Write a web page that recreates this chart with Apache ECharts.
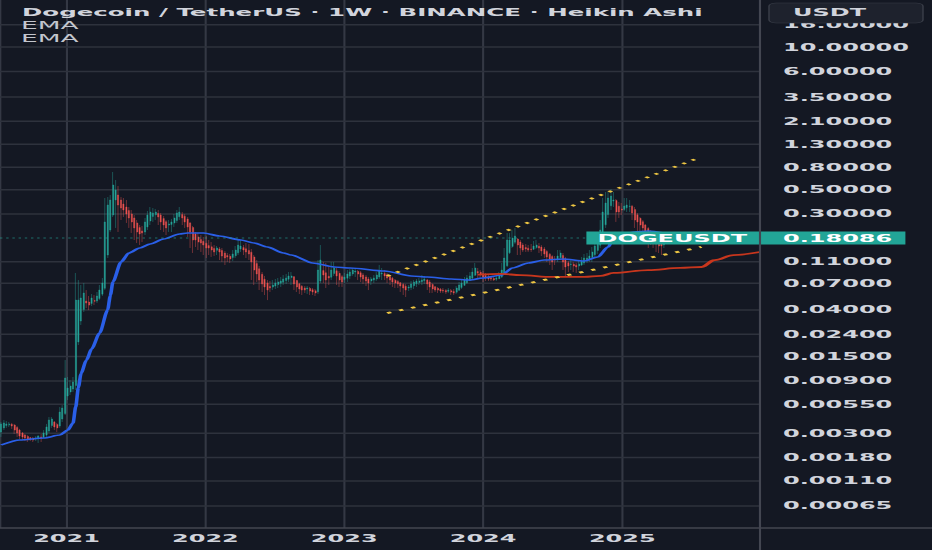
<!DOCTYPE html>
<html>
<head>
<meta charset="utf-8">
<script src="https://cdn.jsdelivr.net/npm/echarts@6/dist/echarts.min.js"></script>
<style>
html,body{margin:0;padding:0;background:#141823;overflow:hidden;}
#wrap{width:932px;height:550px;overflow:hidden;position:relative;background:#141823;}
#chart{width:1552px;height:2200px;position:absolute;left:0;top:0;transform:scale(0.600515,0.25);transform-origin:0 0;}
</style>
</head>
<body>
<div id="wrap"><div id="chart"></div></div>
<script>
// ---- data (weekly Heikin Ashi, DOGE/USDT) ----
const firstWeek = '2020-07-13';
const haOpen = [0.00307,0.00335,0.00352,0.00357,0.00361,0.00356,0.00338,0.0032,0.00301,0.00288,0.0028,0.00273,0.00269,0.00265,0.00268,0.00277,0.00274,0.00288,0.00314,0.00352,0.00379,0.0036,0.00349,0.00404,0.00453,0.00654,0.00712,0.00758,0.00815,0.0204,0.0316,0.0402,0.0481,0.0471,0.0457,0.0486,0.0482,0.0507,0.0556,0.0628,0.1265,0.2139,0.2932,0.4018,0.4462,0.4018,0.3697,0.3472,0.3225,0.2998,0.2757,0.2482,0.2258,0.2097,0.2054,0.2282,0.2588,0.2845,0.2945,0.3030,0.2932,0.2728,0.2551,0.2376,0.2403,0.2482,0.2613,0.2830,0.2968,0.2860,0.2700,0.2482,0.2258,0.1980,0.1852,0.1753,0.1688,0.1624,0.1542,0.1504,0.1455,0.1399,0.1434,0.1392,0.1317,0.1250,0.1232,0.1199,0.1245,0.1324,0.1437,0.1483,0.1443,0.1394,0.1343,0.1215,0.1060,0.0948,0.0843,0.0761,0.0703,0.0653,0.0645,0.0659,0.0681,0.0700,0.0716,0.0741,0.0761,0.0788,0.0801,0.0742,0.0692,0.0656,0.0632,0.0620,0.0627,0.0610,0.0596,0.0584,0.0733,0.0914,0.0872,0.0809,0.0794,0.0857,0.0909,0.0861,0.0803,0.0758,0.0778,0.0813,0.0850,0.0886,0.0896,0.0872,0.0833,0.0798,0.0765,0.0733,0.0748,0.0765,0.0798,0.0850,0.0859,0.0835,0.0806,0.0778,0.0746,0.0724,0.0706,0.0683,0.0657,0.0632,0.0640,0.0665,0.0691,0.0712,0.0722,0.0736,0.0750,0.0718,0.0681,0.0650,0.0628,0.0617,0.0605,0.0599,0.0590,0.0597,0.0589,0.0579,0.0605,0.0639,0.0669,0.0708,0.0742,0.0778,0.0828,0.0896,0.0881,0.0856,0.0825,0.0803,0.0783,0.0773,0.0760,0.0770,0.0800,0.0859,0.1009,0.1324,0.1514,0.1657,0.1768,0.1664,0.1561,0.1483,0.1461,0.1434,0.1428,0.1480,0.1520,0.1495,0.1437,0.1364,0.1288,0.1225,0.1157,0.1150,0.1194,0.1255,0.1172,0.1073,0.1037,0.1044,0.1023,0.1005,0.1025,0.1071,0.1128,0.1160,0.1199,0.1270,0.1394,0.1555,0.1825,0.2386,0.2965,0.3560,0.3937,0.3977,0.3531,0.3323,0.3293,0.3413,0.3509,0.3531,0.3287,0.2945,0.2734,0.2551,0.2381,0.2212,0.2041,0.1918,0.1806,0.1699,0.1613,0.1567];
const haClose = [0.00364,0.00372,0.00364,0.00364,0.00349,0.0032,0.00301,0.00282,0.00277,0.00271,0.00265,0.00265,0.0026,0.00271,0.00282,0.00271,0.00301,0.00342,0.00395,0.00404,0.00342,0.00335,0.00468,0.00508,0.00956,0.00774,0.00807,0.00878,0.0491,0.0491,0.0513,0.0570,0.0462,0.0442,0.0513,0.0478,0.0535,0.0606,0.0703,0.2535,0.3617,0.4018,0.5506,0.4958,0.3617,0.3400,0.3257,0.2998,0.2757,0.2535,0.2235,0.2054,0.1969,0.2011,0.2535,0.2932,0.3126,0.3062,0.3126,0.2815,0.2535,0.2376,0.2235,0.2431,0.2535,0.2757,0.3062,0.3126,0.2757,0.2535,0.2282,0.2054,0.1734,0.1734,0.1664,0.1630,0.1561,0.1467,0.1467,0.1405,0.1349,0.1467,0.1349,0.1240,0.1189,0.1215,0.1165,0.1294,0.1405,0.1561,0.1530,0.1405,0.1349,0.1294,0.1094,0.0923,0.0850,0.0748,0.0689,0.0647,0.0606,0.0633,0.0674,0.0703,0.0718,0.0733,0.0765,0.0781,0.0815,0.0815,0.0689,0.0647,0.0620,0.0606,0.0606,0.0633,0.0594,0.0582,0.0570,0.0923,0.1139,0.0831,0.0748,0.0781,0.0923,0.0964,0.0815,0.0748,0.0718,0.0798,0.0850,0.0886,0.0923,0.0905,0.0850,0.0798,0.0765,0.0733,0.0703,0.0765,0.0781,0.0831,0.0905,0.0868,0.0815,0.0781,0.0748,0.0718,0.0703,0.0689,0.0660,0.0633,0.0606,0.0647,0.0689,0.0718,0.0733,0.0733,0.0748,0.0765,0.0689,0.0647,0.0620,0.0606,0.0606,0.0594,0.0594,0.0582,0.0606,0.0582,0.0570,0.0633,0.0674,0.0703,0.0748,0.0781,0.0815,0.0886,0.0964,0.0868,0.0831,0.0798,0.0781,0.0765,0.0765,0.0748,0.0781,0.0831,0.0923,0.1189,0.1734,0.1734,0.1810,0.1887,0.1561,0.1467,0.1405,0.1437,0.1405,0.1418,0.1530,0.1561,0.1467,0.1378,0.1294,0.1215,0.1165,0.1094,0.1139,0.1240,0.1321,0.1094,0.0984,0.1005,0.1049,0.1005,0.0984,0.1049,0.1117,0.1189,0.1189,0.1240,0.1349,0.1530,0.1734,0.2139,0.3126,0.3775,0.4193,0.4373,0.4018,0.3126,0.3126,0.3257,0.3546,0.3617,0.3546,0.3062,0.2639,0.2535,0.2376,0.2235,0.2054,0.1887,0.1810,0.1699,0.1596,0.1530,0.1530,0.1596];
const haLow = [0.00277,0.0032,0.00335,0.00342,0.00328,0.00295,0.00277,0.00265,0.0026,0.00254,0.00249,0.00254,0.00249,0.00254,0.00244,0.00249,0.00271,0.00277,0.00301,0.00335,0.0032,0.00307,0.00335,0.00379,0.00439,0.00601,0.00668,0.00712,0.00742,0.0191,0.0291,0.0382,0.0415,0.0398,0.0433,0.0442,0.0462,0.0491,0.0535,0.0606,0.1189,0.2054,0.2815,0.2235,0.2054,0.2639,0.2815,0.2482,0.2235,0.2011,0.1734,0.1630,0.1561,0.1664,0.1926,0.2139,0.2376,0.2535,0.2639,0.2376,0.2139,0.2054,0.1926,0.2054,0.2054,0.2282,0.2482,0.2639,0.2376,0.2235,0.1848,0.1467,0.1321,0.1498,0.1405,0.1349,0.1265,0.1189,0.1265,0.1215,0.1240,0.1265,0.1139,0.1094,0.1025,0.1094,0.1071,0.1117,0.1189,0.1265,0.1349,0.1265,0.1189,0.1139,0.0748,0.0674,0.0718,0.0606,0.0582,0.0546,0.0491,0.0582,0.0606,0.0620,0.0633,0.0647,0.0674,0.0689,0.0718,0.0674,0.0606,0.0582,0.0558,0.0546,0.0570,0.0558,0.0546,0.0546,0.0535,0.0558,0.0703,0.0703,0.0633,0.0674,0.0748,0.0815,0.0674,0.0647,0.0647,0.0703,0.0718,0.0765,0.0815,0.0798,0.0748,0.0718,0.0689,0.0660,0.0606,0.0674,0.0703,0.0733,0.0765,0.0748,0.0748,0.0703,0.0674,0.0647,0.0633,0.0633,0.0582,0.0546,0.0524,0.0594,0.0606,0.0620,0.0647,0.0674,0.0674,0.0689,0.0606,0.0570,0.0570,0.0582,0.0570,0.0570,0.0570,0.0558,0.0570,0.0546,0.0546,0.0558,0.0594,0.0620,0.0660,0.0689,0.0733,0.0765,0.0815,0.0781,0.0781,0.0718,0.0733,0.0733,0.0733,0.0733,0.0733,0.0765,0.0781,0.0831,0.0984,0.1294,0.1467,0.1596,0.1265,0.1265,0.1349,0.1349,0.1349,0.1349,0.1405,0.1437,0.1321,0.1240,0.1189,0.1094,0.1025,0.0923,0.1025,0.1094,0.1139,0.0923,0.0798,0.0886,0.0923,0.0886,0.0868,0.0923,0.1005,0.1025,0.1071,0.1094,0.1094,0.1215,0.1294,0.1467,0.1734,0.2235,0.2757,0.3257,0.3472,0.2535,0.2757,0.2932,0.3193,0.3126,0.3126,0.2639,0.2235,0.2054,0.1969,0.1887,0.1734,0.1467,0.1561,0.1467,0.1349,0.1321,0.1265,0.1467];
const haHigh = [0.00379,0.00395,0.00387,0.00379,0.00372,0.00364,0.00349,0.00328,0.00307,0.00295,0.00288,0.00277,0.00277,0.00282,0.00288,0.00295,0.0032,0.00364,0.00421,0.00421,0.00387,0.00372,0.00519,0.00541,0.01394,0.00976,0.00915,0.00976,0.0868,0.0748,0.0674,0.0703,0.0606,0.0535,0.0558,0.0546,0.0582,0.0674,0.0781,0.4193,0.4282,0.4462,0.7235,0.6115,0.5393,0.4282,0.4193,0.4018,0.3472,0.3257,0.2932,0.2639,0.2376,0.2331,0.2757,0.3193,0.3472,0.3400,0.3330,0.3257,0.3062,0.2875,0.2639,0.2639,0.2700,0.2998,0.3257,0.3472,0.3126,0.2998,0.2815,0.2535,0.2331,0.2054,0.2011,0.1926,0.1848,0.1887,0.1734,0.1664,0.1561,0.1530,0.1498,0.1467,0.1378,0.1321,0.1294,0.1405,0.1530,0.1734,0.1734,0.1561,0.1630,0.1596,0.1437,0.1265,0.1139,0.1005,0.0886,0.0815,0.0748,0.0733,0.0748,0.0765,0.0781,0.0798,0.0831,0.0850,0.0886,0.0886,0.0815,0.0748,0.0703,0.0674,0.0660,0.0660,0.0647,0.0633,0.0620,0.1139,0.1561,0.1094,0.1071,0.1005,0.1094,0.1094,0.0964,0.0905,0.0831,0.0868,0.0923,0.0944,0.0964,0.0964,0.0923,0.0905,0.0868,0.0831,0.0798,0.0798,0.0831,0.0886,0.1025,0.0964,0.0923,0.0868,0.0831,0.0798,0.0765,0.0748,0.0718,0.0703,0.0689,0.0674,0.0733,0.0748,0.0765,0.0781,0.0831,0.0815,0.0765,0.0748,0.0703,0.0660,0.0647,0.0633,0.0633,0.0620,0.0633,0.0620,0.0620,0.0660,0.0718,0.0748,0.0798,0.0831,0.0886,0.0964,0.1071,0.0964,0.0923,0.0905,0.0868,0.0831,0.0815,0.0798,0.0815,0.0886,0.1071,0.1467,0.2011,0.2011,0.2139,0.2235,0.1810,0.1734,0.1630,0.1596,0.1561,0.1596,0.1699,0.1734,0.1630,0.1561,0.1498,0.1405,0.1321,0.1265,0.1240,0.1405,0.1405,0.1321,0.1215,0.1117,0.1139,0.1094,0.1071,0.1117,0.1215,0.1294,0.1321,0.1405,0.1498,0.1810,0.2011,0.2639,0.4193,0.4755,0.4755,0.5064,0.4755,0.4106,0.3855,0.3775,0.4193,0.4193,0.4018,0.3617,0.3472,0.3062,0.2815,0.2639,0.2431,0.2282,0.2139,0.2011,0.1848,0.1772,0.1664,0.1734];

const emaFastDates = ['2020-07-13','2020-08-31','2020-11-02','2020-12-14','2021-01-04','2021-01-18','2021-01-25','2021-02-01','2021-02-08','2021-02-22','2021-03-08','2021-03-29','2021-04-19','2021-04-26','2021-05-03','2021-05-24','2021-06-14','2021-07-12','2021-08-09','2021-09-13','2021-10-25','2021-11-15','2021-12-27','2022-02-07','2022-04-04','2022-05-09','2022-06-13','2022-07-25','2022-08-15','2022-10-10','2022-12-05','2023-01-16','2023-04-17','2023-06-26','2023-08-07','2023-10-09','2023-11-27','2024-01-01','2024-02-19','2024-03-18','2024-04-29','2024-06-10','2024-07-29','2024-09-23','2024-10-28','2024-11-25','2024-12-09','2025-01-06','2025-02-03','2025-03-10','2025-04-21'];
const emaFastValues = [0.00234,0.0026,0.00271,0.00288,0.0032,0.00371,0.00520,0.00780,0.0105,0.0139,0.0176,0.0246,0.0398,0.0540,0.0720,0.1094,0.1321,0.1467,0.1596,0.1772,0.1969,0.2011,0.2011,0.1887,0.1734,0.1630,0.1498,0.1321,0.1265,0.1071,0.0984,0.0964,0.0905,0.0815,0.0798,0.0765,0.0748,0.0781,0.0831,0.0964,0.1071,0.1139,0.1165,0.1117,0.1215,0.1498,0.1810,0.1969,0.2054,0.2097,0.2011];
const emaSlowDates = ['2023-12-18','2024-02-19','2024-04-08','2024-07-01','2024-09-23','2024-11-04','2024-12-09','2025-03-10','2025-06-02','2025-07-28','2025-09-01','2025-10-20','2025-12-29'];
const emaSlowValues = [0.0840,0.0850,0.0831,0.0798,0.0798,0.0815,0.0868,0.0923,0.0964,0.0984,0.1139,0.1265,0.1349];

const upperTrend = [['2023-04-24', 0.0815], ['2025-07-26', 0.99]];
const lowerTrend = [['2023-04-24', 0.0374], ['2025-07-28', 0.150]];

const priceTicks = [16, 10, 6, 3.5, 2.1, 1.3, 0.8, 0.5, 0.3, 0.11, 0.07, 0.04, 0.024, 0.015, 0.009, 0.0055, 0.003, 0.0018, 0.0011, 0.00065];
const lastPrice = 0.18086;
const symbolName = 'DOGEUSDT';
const titleText = 'Dogecoin / TetherUS · 1W · BINANCE · Heikin Ashi';
const legendTexts = ['EMA', 'EMA'];
const quoteCurrency = 'USDT';

// ---- build ----
const DAY = 86400000;
const t0 = Date.parse(firstWeek + 'T00:00:00Z');
function weekDate(i) { return new Date(t0 + i * 7 * DAY).toISOString().slice(0, 10); }
const candles = haOpen.map((o, i) => [weekDate(i), o, haClose[i], haLow[i], haHigh[i]]);
const emaFast = emaFastDates.map((d, i) => [d, emaFastValues[i]]);
const emaSlow = emaSlowDates.map((d, i) => [d, emaSlowValues[i]]);

// The chart is drawn on a 1552x2200 surface and shown at 932x550:
// horizontal factor 932/1552, vertical factor 1/4 (text is stretched wide like the picture).
const K = 4;
const SX = 932 / 1552;              // css horizontal scale
const px = v => v / SX;             // final-screen horizontal px -> surface units
const py = v => v * K;              // final-screen vertical px -> surface units
const W = 1552, H = 2200;
const plotRight = px(760);
const FONT = 'DejaVu Sans';
const UP = '#26a69a', DOWN = '#ef5350', TEAL = '#22a597';
const fs = v => v * K;              // font size in final vertical px

const chart = echarts.init(document.getElementById('chart'), null, {renderer: 'svg', width: W, height: H});
chart.setOption({
  animation: false,
  backgroundColor: '#141823',
  textStyle: {fontFamily: FONT},
  grid: {left: 0, right: W - plotRight, top: 0, bottom: py(22), containLabel: false},
  xAxis: {
    type: 'time', min: '2020-07-10', max: '2025-12-29', splitNumber: 5,
    axisLine: {show: false}, axisTick: {show: false},
    axisLabel: {formatter: '{yyyy}', color: '#d1d4dc', fontFamily: FONT, fontWeight: 'bold', fontSize: fs(10), margin: py(5)},
    splitLine: {show: true, lineStyle: {color: '#343844', width: px(2.1)}}
  },
  yAxis: {
    type: 'log', logBase: 10, min: 0.000409, max: 26.85,
    axisLine: {show: false}, axisTick: {show: false}, axisLabel: {show: false}, splitLine: {show: false}
  },
  series: [
    {
      type: 'candlestick', data: candles, encode: {x: 0, y: [1, 2, 3, 4]},
      barWidth: px(1.5), z: 3,
      itemStyle: {color: UP, color0: DOWN, borderColor: UP, borderColor0: DOWN, borderWidth: px(0.6)},
      emphasis: {disabled: true},
      markLine: {
        silent: true, symbol: 'none', z: 1, animation: false, precision: 8,
        lineStyle: {color: '#2e323d', width: py(1.4), type: 'solid'},
        label: {show: true, position: 'end', distance: px(23), color: '#d1d4dc', fontFamily: FONT, fontWeight: 'bold', fontSize: fs(10), lineHeight: fs(7.5),
          formatter: p => priceTicks[p.dataIndex].toFixed(5)},
        emphasis: {disabled: true},
        data: priceTicks.map(v => ({yAxis: v}))
      }
    },
    {
      type: 'line', name: 'EMA', data: emaFast, smooth: 0.25, smoothMonotone: 'x', showSymbol: false, z: 4,
      lineStyle: {color: '#2a5fe8', width: py(1.5)}, emphasis: {disabled: true},
      markLine: {
        silent: true, symbol: 'none', z: 10, animation: false, precision: 8, emphasis: {disabled: true},
        data: [
          {yAxis: lastPrice, lineStyle: {color: 'rgba(38,166,154,0.6)', type: [px(2.4), px(3.8)], width: py(1)},
            label: {show: true, position: 'insideEnd', distance: 0, formatter: symbolName, backgroundColor: TEAL, color: '#ffffff',
              fontFamily: FONT, fontWeight: 'bold', fontSize: fs(10), lineHeight: fs(10), padding: [py(1.5), px(13), py(1.5), px(11)]}},
          {yAxis: lastPrice, lineStyle: {color: 'rgba(0,0,0,0)', width: 0},
            label: {show: true, position: 'end', distance: 0, formatter: lastPrice.toFixed(5), backgroundColor: TEAL, color: '#ffffff',
              fontFamily: FONT, fontWeight: 'bold', fontSize: fs(10), lineHeight: fs(10), padding: [py(1.5), px(13), py(1.5), px(23)]}}
        ]
      }
    },
    {
      type: 'line', name: 'EMA', data: emaSlow, smooth: 0.35, smoothMonotone: 'x', showSymbol: false, z: 4,
      lineStyle: {color: '#c8361d', width: py(1.8)}, emphasis: {disabled: true}
    },
    {
      type: 'line', data: upperTrend, showSymbol: false, z: 5, emphasis: {disabled: true},
      lineStyle: {color: '#eec643', width: py(1.9), type: [py(1.6), py(3.6)]}
    },
    {
      type: 'line', data: lowerTrend, showSymbol: false, z: 5, emphasis: {disabled: true},
      lineStyle: {color: '#eec643', width: py(1.9), type: [py(1.8), py(3.8)]}
    }
  ],
  graphic: [
    {type: 'line', z: 50, shape: {x1: plotRight, y1: 0, x2: plotRight, y2: H}, style: {stroke: '#434651', lineWidth: px(2.1)}},
    {type: 'line', z: 50, shape: {x1: 0, y1: py(528), x2: W, y2: py(528)}, style: {stroke: '#434651', lineWidth: py(1.5)}},
    {type: 'rect', z: 60, shape: {x: px(769), y: py(3), width: px(154), height: py(20), r: py(3)}, style: {fill: '#1e222d', stroke: '#3a3e49', lineWidth: py(0.6)}},
    {type: 'text', z: 61, x: px(793), y: py(12.3), style: {text: quoteCurrency, fill: '#d1d4dc', fontFamily: FONT, fontWeight: 'bold', fontSize: fs(10), lineHeight: fs(8.5), verticalAlign: 'middle', align: 'left'}},
    {type: 'text', z: 61, x: px(22), y: py(12.5), style: {text: titleText, fill: '#d1d4dc', fontFamily: FONT, fontWeight: 'bold', fontSize: fs(10.2), verticalAlign: 'middle', align: 'left'}},
    {type: 'text', z: 61, x: px(21), y: py(25), style: {text: legendTexts[0], fill: '#c3c6ce', fontFamily: FONT, fontSize: fs(11), verticalAlign: 'middle', align: 'left'}},
    {type: 'text', z: 61, x: px(21), y: py(38), style: {text: legendTexts[1], fill: '#c3c6ce', fontFamily: FONT, fontSize: fs(11), verticalAlign: 'middle', align: 'left'}}
  ]
});
</script>
</body>
</html>
